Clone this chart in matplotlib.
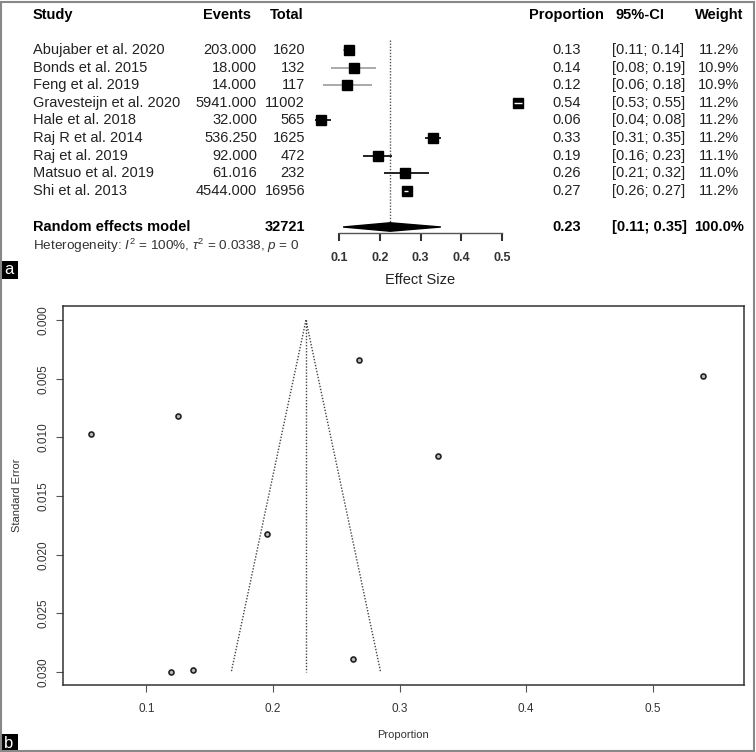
import matplotlib
matplotlib.use('Agg')
import matplotlib.pyplot as plt
from matplotlib.patches import Rectangle, Polygon

plt.rcParams['font.family'] = ['Liberation Sans', 'DejaVu Sans']
plt.rcParams['mathtext.fontset'] = 'custom'
plt.rcParams['mathtext.rm'] = 'Liberation Sans'
plt.rcParams['mathtext.it'] = 'Liberation Sans:italic'
plt.rcParams['mathtext.bf'] = 'Liberation Sans:bold'

# ---------------- data ----------------
studies = ["Abujaber et al. 2020", "Bonds et al. 2015", "Feng et al. 2019",
           "Gravesteijn et al. 2020", "Hale et al. 2018", "Raj R et al. 2014",
           "Raj et al. 2019", "Matsuo et al. 2019", "Shi et al. 2013"]
events = [203.0, 18.0, 14.0, 5941.0, 32.0, 536.25, 92.0, 61.016, 4544.0]
totals = [1620, 132, 117, 11002, 565, 1625, 472, 232, 16956]
proportions = [0.1253, 0.1364, 0.1197, 0.5400, 0.0566, 0.3300, 0.1949, 0.2630, 0.2680]
ci_low = [0.11, 0.08, 0.06, 0.53, 0.04, 0.31, 0.16, 0.21, 0.26]
ci_high = [0.14, 0.19, 0.18, 0.55, 0.08, 0.35, 0.23, 0.32, 0.27]
weights = [11.2, 10.9, 10.9, 11.2, 11.2, 11.2, 11.1, 11.0, 11.2]
std_errors = [0.0082, 0.0298, 0.0300, 0.0048, 0.0097, 0.0116, 0.0182, 0.0289, 0.0034]

pooled_total = 32721
pooled_est = 0.2255
pooled_low = 0.11
pooled_high = 0.35
pooled_weight = 100.0
heterogeneity = r"Heterogeneity: $I^2$ = 100%, $\tau^2$ = 0.0338, $p$ = 0"

forest_ticks = [0.1, 0.2, 0.3, 0.4, 0.5]
funnel_xticks = [0.1, 0.2, 0.3, 0.4, 0.5]
funnel_yticks = [0.000, 0.005, 0.010, 0.015, 0.020, 0.025, 0.030]
funnel_se = [0.0, 0.030]
funnel_left = [0.226, 0.167]
funnel_right = [0.226, 0.285]
funnel_center = 0.226

# ---------------- figure ----------------
W, H = 756, 752
fig = plt.figure(figsize=(W / 100, H / 100), dpi=100)

ROW0, STEP = 50.0, 17.6          # pixel y of first study row, row spacing
def k_of(px):
    return (px - ROW0) / STEP

# text layer for panel a
ax_t = fig.add_axes([0, (H - 283) / H, 1, 283 / H])
ax_t.set_xlim(0, W)
ax_t.set_ylim(k_of(283), k_of(0))
ax_t.axis('off')

fs = 10.5
hdr_k = k_of(15)
ax_t.text(33, hdr_k, "Study", fontsize=fs, fontweight='bold', va='center', ha='left')
ax_t.text(251, hdr_k, "Events", fontsize=fs, fontweight='bold', va='center', ha='right')
ax_t.text(304, hdr_k, "Total", fontsize=fs, fontweight='bold', va='center', ha='right')
ax_t.text(604, hdr_k, "Proportion", fontsize=fs, fontweight='bold', va='center', ha='right')
ax_t.text(615, hdr_k, "95%-CI", fontsize=fs, fontweight='bold', va='center', ha='left')
ax_t.text(743, hdr_k, "Weight", fontsize=fs, fontweight='bold', va='center', ha='right')

for i, s in enumerate(studies):
    ax_t.text(33, i, s, fontsize=fs, va='center', ha='left', color='#222')
    ax_t.text(257, i, f"{events[i]:.3f}", fontsize=fs, va='center', ha='right', color='#222')
    ax_t.text(305, i, f"{totals[i]}", fontsize=fs, va='center', ha='right', color='#222')
    ax_t.text(581, i, f"{proportions[i]:.2f}", fontsize=fs, va='center', ha='right', color='#222')
    ax_t.text(612, i, f"[{ci_low[i]:.2f}; {ci_high[i]:.2f}]", fontsize=fs, va='center', ha='left', color='#222')
    ax_t.text(739, i, f"{weights[i]:.1f}%", fontsize=fs, va='center', ha='right', color='#222')

re_k = k_of(227)
ax_t.text(33, re_k, "Random effects model", fontsize=fs, fontweight='bold', va='center', ha='left')
ax_t.text(305, re_k, f"{pooled_total}", fontsize=fs, fontweight='bold', va='center', ha='right')
ax_t.text(581, re_k, f"{pooled_est:.2f}", fontsize=fs, fontweight='bold', va='center', ha='right')
ax_t.text(612, re_k, f"[{pooled_low:.2f}; {pooled_high:.2f}]", fontsize=fs, fontweight='bold', va='center', ha='left')
ax_t.text(744, re_k, f"{pooled_weight:.1f}%", fontsize=fs, fontweight='bold', va='center', ha='right')
ax_t.text(33, k_of(246), heterogeneity, fontsize=9.7, va='center', ha='left', color='#333')

# forest axes
ax_f = fig.add_axes([300 / W, (H - 233) / H, 230 / W, (233 - 35) / H])
ax_f.set_xlim(0.0043, 0.5687)
ax_f.set_ylim(k_of(233), k_of(35))
ax_f.patch.set_alpha(0)
for sp in ['top', 'right', 'left']:
    ax_f.spines[sp].set_visible(False)
ax_f.spines['bottom'].set_bounds(forest_ticks[0], forest_ticks[-1])
ax_f.spines['bottom'].set_color('#555')
ax_f.spines['bottom'].set_linewidth(1.0)
ax_f.set_yticks([])
ax_f.set_xticks(forest_ticks)
ax_f.set_xticklabels([f"{t:.1f}" for t in forest_ticks], fontsize=9, fontweight='bold', color='#333')
ax_f.tick_params(axis='x', length=6, width=1.5, pad=8, color='#333')
ax_f.text(0.3, -0.235, "Effect Size", transform=ax_f.get_xaxis_transform(),
          fontsize=10.5, ha='center', va='center', color='#222', clip_on=False)

line_colors = ['#aaaaaa', '#aaaaaa', '#aaaaaa', '#222222', '#222222', '#222222', '#222222', '#222222', '#222222']
box_half = 0.0125
for i in range(len(studies)):
    inside = (ci_high[i] - ci_low[i]) < 2 * box_half
    if not inside:
        ax_f.plot([ci_low[i], ci_high[i]], [i, i], color=line_colors[i], lw=1.4, zorder=2,
                  solid_capstyle='butt')
    ax_f.plot([proportions[i]], [i], marker='s', markersize=7.4, color='black', zorder=3)
    if inside:
        ax_f.plot([ci_low[i], ci_high[i]], [i, i], color='white', lw=1.0, zorder=4,
                  solid_capstyle='butt')

ax_f.plot([pooled_est, pooled_est], [k_of(40), re_k], color='#555', lw=1.0,
          linestyle=(0, (1, 1.2)), zorder=1)
dh = 0.24
diamond = Polygon([(pooled_low, re_k), (pooled_est, re_k - dh), (pooled_high, re_k),
                   (pooled_est, re_k + dh)], closed=True, facecolor='black',
                  edgecolor='black', lw=1.0, zorder=3)
ax_f.add_patch(diamond)

# ---------------- panel b: funnel plot ----------------
ax_b = fig.add_axes([63 / W, (H - 685) / H, 681 / W, 379 / H])
ax_b.set_xlim(0.0341, 0.572)
ax_b.set_ylim(0.0311, -0.0012)
for sp in ax_b.spines.values():
    sp.set_color('#333')
    sp.set_linewidth(1.1)
ax_b.set_xticks(funnel_xticks)
ax_b.set_xticklabels([f"{t:.1f}" for t in funnel_xticks], fontsize=8.5, color='#333')
ax_b.set_yticks(funnel_yticks)
ax_b.set_yticklabels([f"{t:.3f}" for t in funnel_yticks], fontsize=8.5, color='#333',
                     rotation=90, va='center')
ax_b.tick_params(axis='x', length=5, width=0.8, pad=8, color='#555')
ax_b.tick_params(axis='y', length=5, width=0.8, pad=5, color='#555')
ax_b.set_xlabel("Proportion", fontsize=8, color='#333', labelpad=11)
ax_b.set_ylabel("Standard Error", fontsize=8, color='#333', labelpad=11)

ax_b.plot(funnel_left, funnel_se, color='#444', lw=1.0, linestyle=(0, (1, 1.2)))
ax_b.plot(funnel_right, funnel_se, color='#444', lw=1.0, linestyle=(0, (1, 1.2)))
ax_b.plot([funnel_center, funnel_center], funnel_se, color='#444', lw=1.0, linestyle=(0, (1, 1.2)))
ax_b.plot(proportions, std_errors, linestyle='none', marker='o', markersize=3.6,
          markerfacecolor='#bbbbbb', markeredgecolor='#222', markeredgewidth=1.2)

# ---------------- panel labels & border ----------------
fig.add_artist(Rectangle((0, (H - 279) / H), 18 / W, 18 / H, transform=fig.transFigure,
                         facecolor='black', edgecolor='none'))
fig.text(9 / W, (H - 270) / H, "a", color='white', fontsize=12, ha='center', va='center')
fig.add_artist(Rectangle((0, 0), 18 / W, 18 / H, transform=fig.transFigure,
                         facecolor='black', edgecolor='none'))
fig.text(9 / W, 9 / H, "b", color='white', fontsize=12, ha='center', va='center')
fig.add_artist(Rectangle((0.001, 0.001), 0.997, 0.997, transform=fig.transFigure,
                         fill=False, edgecolor='#888', lw=1.5))

fig.savefig("out.png", dpi=100)
